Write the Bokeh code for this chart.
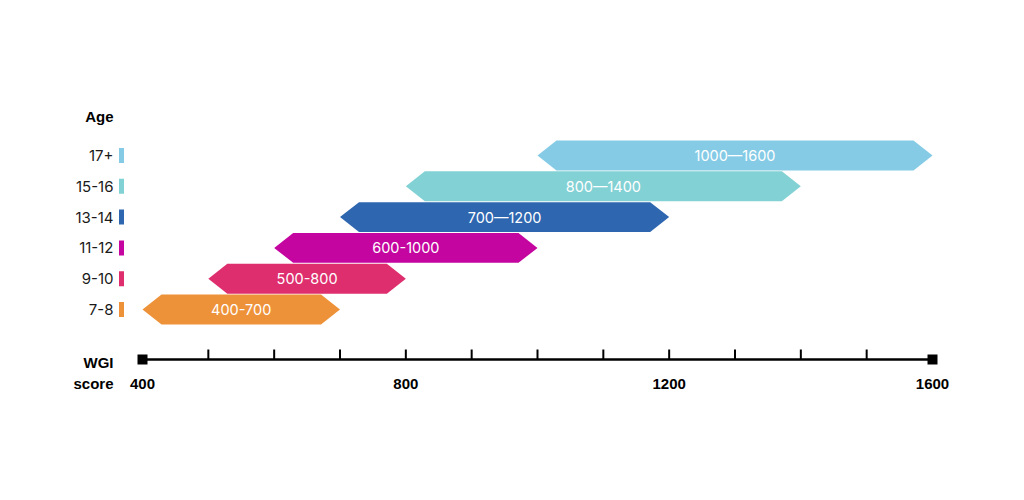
from bokeh.plotting import figure
from bokeh.models import Range1d
from bokeh.core.properties import value
from bokeh.embed import file_html
from bokeh.resources import INLINE

# ---- data ----
ages = ["7-8", "9-10", "11-12", "13-14", "15-16", "17+"]
score_low = [400, 500, 600, 700, 800, 1000]
score_high = [700, 800, 1000, 1200, 1400, 1600]
range_labels = ["400-700", "500-800", "600-1000", "700\u20141200", "800\u20141400", "1000\u20141600"]
colors = ["#EE923A", "#DE2E6D", "#C405A0", "#2E66B0", "#82D1D4", "#85CBE6"]
axis_min, axis_max = 400, 1600
minor_ticks = [500, 600, 700, 800, 900, 1000, 1100, 1200, 1300, 1400, 1500]
labeled_ticks = [800, 1200, 1600]

# ---- layout helpers (page pixels -> data units) ----
W, H = 1008, 484
OFF = 0
PXU = (932 - 142) / (axis_max - axis_min)          # px per score unit
X0 = axis_min - (142 - OFF) / PXU
X1 = X0 + W / PXU
ROW = 30.8                                          # px per row
Y_TOP = (309 - OFF) / ROW
Y_BOT = (309 - OFF - H) / ROW


def px2x(px):
    return X0 + (px - OFF) / PXU


def py2y(py):
    return (309 - py) / ROW


p = figure(width=W, height=H, output_backend="svg", toolbar_location=None,
           x_range=Range1d(X0, X1), y_range=Range1d(Y_BOT, Y_TOP),
           x_axis_location=None, y_axis_location=None, min_border=0)
p.xgrid.visible = False
p.ygrid.visible = False
p.outline_line_color = None
p.background_fill_color = "white"
p.border_fill_color = "white"

rows = list(range(len(ages)))
indent = 19 / PXU
half = 0.97 / 2
xs, ys = [], []
for r, lo, hi in zip(rows, score_low, score_high):
    xs.append([lo, lo + indent, hi - indent, hi, hi - indent, lo + indent])
    ys.append([r, r + half, r + half, r, r - half, r - half])
p.patches(xs, ys, fill_color=colors, line_color=None)

mids = [(lo + hi) / 2 for lo, hi in zip(score_low, score_high)]
p.text(x=mids, y=rows, text=range_labels, text_align="center", text_baseline="middle",
       text_color="white", text_font_size="14.5px", text_font=value("Inter"))

# age labels + colour chips
p.text(x=[px2x(113)] * len(ages), y=rows, text=ages, text_align="right",
       text_baseline="middle", text_color="#1a1a1a", text_font_size="15px",
       text_font=value("Inter"))
p.rect(x=[px2x(121)] * len(ages), y=rows, width=5, height=15,
       width_units="screen", height_units="screen", fill_color=colors, line_color=None)

p.text(x=[px2x(113)], y=[py2y(116)], text=["Age"], text_align="right",
       text_baseline="middle", text_color="black", text_font_size="15px",
       text_font=value("Liberation Sans"), text_font_style="bold")

# axis
ay = py2y(359)
p.segment(x0=[axis_min], x1=[axis_max], y0=[ay], y1=[ay], line_color="black", line_width=2.5)
p.segment(x0=minor_ticks, x1=minor_ticks, y0=[ay] * len(minor_ticks),
          y1=[py2y(349)] * len(minor_ticks), line_color="black", line_width=2)
p.scatter(x=[axis_min, axis_max], y=[ay, ay], marker="square", size=10,
          fill_color="black", line_color=None)

tick_vals = [axis_min] + labeled_ticks
p.text(x=tick_vals, y=[py2y(383)] * len(tick_vals), text=[str(v) for v in tick_vals],
       text_align="center", text_baseline="middle", text_color="black",
       text_font_size="15px", text_font=value("Liberation Sans"), text_font_style="bold")

p.text(x=[px2x(113), px2x(113)], y=[py2y(362), py2y(383)], text=["WGI", "score"],
       text_align="right", text_baseline="middle", text_color="black",
       text_font_size="15px", text_font=value("Liberation Sans"), text_font_style="bold")

open("out.html", "w").write(file_html(p, INLINE))
